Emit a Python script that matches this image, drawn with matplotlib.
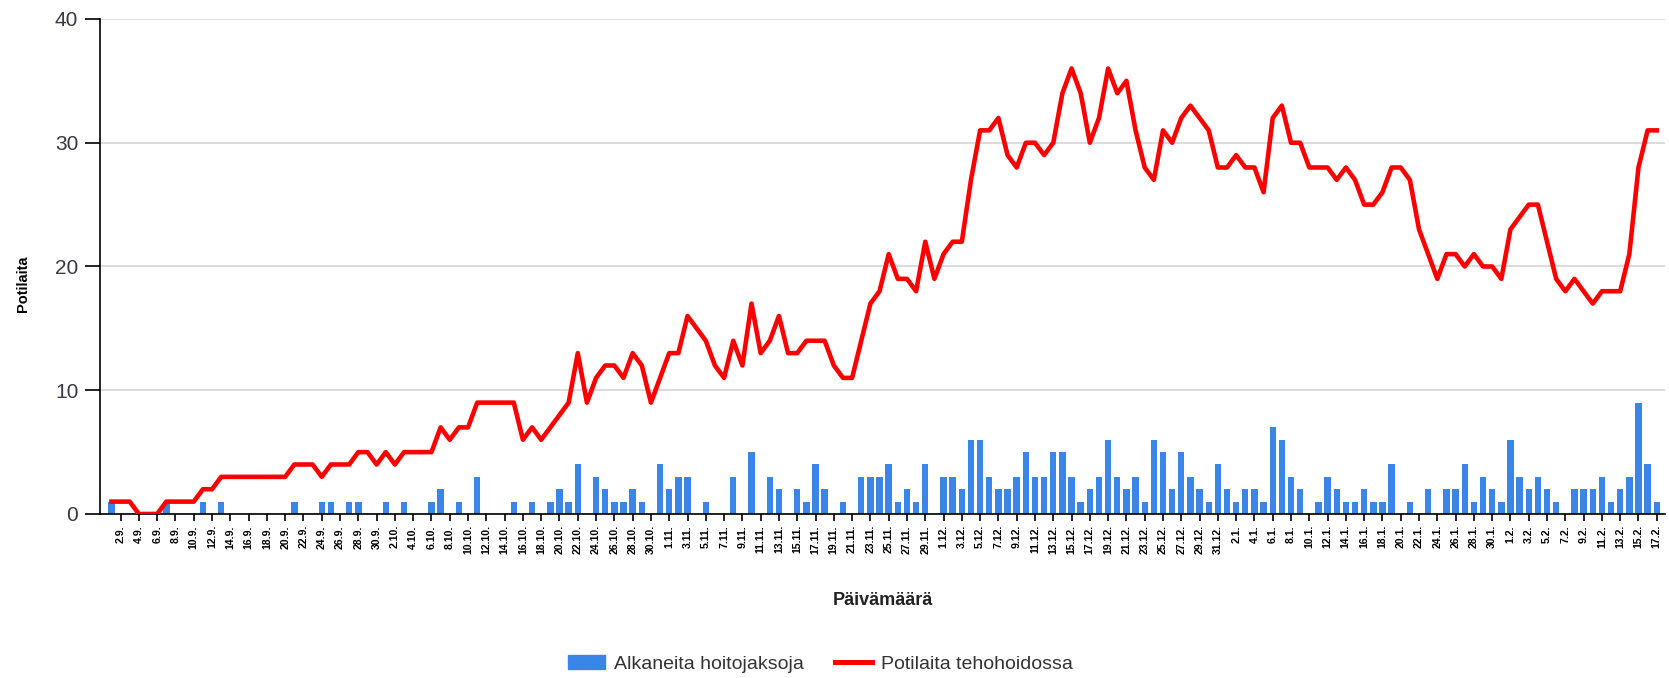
import matplotlib
matplotlib.use("Agg")
import matplotlib.pyplot as plt
from matplotlib.patches import Patch
from matplotlib.lines import Line2D
import numpy as np
import pandas as pd

plt.rcParams["font.family"] = ["Liberation Sans", "DejaVu Sans"]

# one category per day, 1.9. - 17.2.
days = pd.date_range("2020-09-01", "2021-02-17", freq="D")
day_labels = [f"{d.day}.{d.month}." for d in days]

# Potilaita tehohoidossa (line)
icu_sep = [1, 1, 1, 0, 0, 0, 1, 1, 1, 1, 2, 2, 3, 3, 3, 3, 3, 3, 3, 3,
           4, 4, 4, 3, 4, 4, 4, 5, 5, 4]
icu_oct = [5, 4, 5, 5, 5, 5, 7, 6, 7, 7, 9, 9, 9, 9, 9, 6, 7, 6, 7, 8,
           9, 13, 9, 11, 12, 12, 11, 13, 12, 9, 11]
icu_nov = [13, 13, 16, 15, 14, 12, 11, 14, 12, 17, 13, 14, 16, 13, 13, 14, 14, 14, 12, 11,
           11, 14, 17, 18, 21, 19, 19, 18, 22, 19]
icu_dec = [21, 22, 22, 27, 31, 31, 32, 29, 28, 30, 30, 29, 30, 34, 36, 34, 30, 32, 36, 34,
           35, 31, 28, 27, 31, 30, 32, 33, 32, 31, 28]
icu_jan = [28, 29, 28, 28, 26, 32, 33, 30, 30, 28, 28, 28, 27, 28, 27, 25, 25, 26, 28, 28,
           27, 23, 21, 19, 21, 21, 20, 21, 20, 20, 19]
icu_feb = [23, 24, 25, 25, 22, 19, 18, 19, 18, 17, 18, 18, 18, 21, 28, 31, 31]

# Alkaneita hoitojaksoja (bars)
new_sep = [1, 0, 0, 0, 0, 0, 1, 0, 0, 0, 1, 0, 1, 0, 0, 0, 0, 0, 0, 0,
           1, 0, 0, 1, 1, 0, 1, 1, 0, 0]
new_oct = [1, 0, 1, 0, 0, 1, 2, 0, 1, 0, 3, 0, 0, 0, 1, 0, 1, 0, 1, 2,
           1, 4, 0, 3, 2, 1, 1, 2, 1, 0, 4]
new_nov = [2, 3, 3, 0, 1, 0, 0, 3, 0, 5, 0, 3, 2, 0, 2, 1, 4, 2, 0, 1,
           0, 3, 3, 3, 4, 1, 2, 1, 4, 0]
new_dec = [3, 3, 2, 6, 6, 3, 2, 2, 3, 5, 3, 3, 5, 5, 3, 1, 2, 3, 6, 3,
           2, 3, 1, 6, 5, 2, 5, 3, 2, 1, 4]
new_jan = [2, 1, 2, 2, 1, 7, 6, 3, 2, 0, 1, 3, 2, 1, 1, 2, 1, 1, 4, 0,
           1, 0, 2, 0, 2, 2, 4, 1, 3, 2, 1]
new_feb = [6, 3, 2, 3, 2, 1, 0, 2, 2, 2, 3, 1, 2, 3, 9, 4, 1]

icu = icu_sep + icu_oct + icu_nov + icu_dec + icu_jan + icu_feb
new = new_sep + new_oct + new_nov + new_dec + new_jan + new_feb

x = np.arange(len(days))

fig = plt.figure(figsize=(16.69, 6.78), dpi=100)
ax = fig.add_axes([0.0602, 0.2419, 0.9374, 0.7301])

ax.bar(x, new, width=0.7, color="#3a86e8", zorder=2)
ax.plot(x, icu, color="#ff0000", lw=3.3, zorder=3, solid_joinstyle="round")

ax.set_xlim(-1.2, len(days) - 0.1)
ax.set_ylim(0, 40)
ax.set_yticks([0, 10, 20, 30, 40])
ax.grid(axis="y", color="#d9d9d9", lw=1.3)
ax.set_axisbelow(True)
for s in ["top", "right"]:
    ax.spines[s].set_visible(False)
ax.spines["left"].set_linewidth(1.2)
ax.spines["bottom"].set_linewidth(1.2)

ax.tick_params(axis="y", length=11, width=1.2, labelsize=15, labelcolor="#383844", pad=5)
ax.set_xticks(x[1::2])
ax.set_xticklabels(day_labels[1::2], rotation=90, fontsize=7.6, fontweight="bold")
ax.tick_params(axis="x", length=5, width=1.2, pad=3)

ax.set_ylabel("Potilaita", fontweight="bold", fontsize=10.5, va="center")
ax.yaxis.set_label_coords(-0.0495, 0.465)
ax.set_xlabel("Päivämäärä", fontweight="bold", fontsize=13, va="center", color="#222222")
ax.xaxis.set_label_coords(0.5, -0.174)

handles = [Patch(color="#3a86e8"), Line2D([], [], color="#ff0000", lw=3.6)]
fig.legend(handles, ["Alkaneita hoitojaksoja", "Potilaita tehohoidossa"],
           loc="center", bbox_to_anchor=(0.4915, 0.021), ncol=2, frameon=False,
           fontsize=14, labelcolor="#333333", handlelength=1.9, handleheight=0.75,
           handletextpad=0.45, columnspacing=1.6)

fig.savefig("out.png", dpi=100)
